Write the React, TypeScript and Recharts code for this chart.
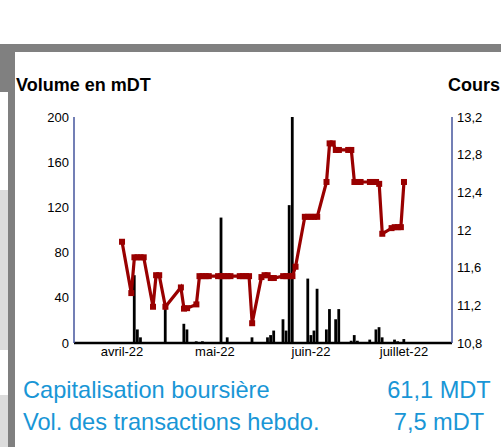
import React from 'react';
import { ComposedChart, Bar, Line, XAxis, YAxis } from 'recharts';

// x values are day offsets from 1 April 2022
const MONTH_TICKS = [0, 30, 61, 91];
const MONTH_LABELS = ['avril-22', 'mai-22', 'juin-22', 'juillet-22'];
const VOL_TICKS = [0, 40, 80, 120, 160, 200];
const PRICE_TICKS = [10.8, 11.2, 11.6, 12, 12.4, 12.8, 13.2];

const VOL_DAYS = [4, 5, 6, 14, 20, 21, 24, 26, 32, 34, 42, 47, 48, 49, 52, 53, 54, 55, 60, 61, 62, 63, 66, 67, 69, 70, 74, 75, 76, 80, 82, 83, 84, 88, 89, 91];
const VOLUMES = [60, 12, 5, 32, 17, 12, 1.5, 1.5, 111, 5, 5, 5, 7, 11, 21, 11, 122, 200, 57, 7, 11, 48, 12, 30, 21, 30, 2, 7, 2, 3, 12, 14, 5, 3, 1.5, 3.5];

const PRICE_DAYS = [0, 3, 4, 5, 6, 7, 10, 11, 12, 14, 19, 20, 21, 24, 25, 26, 27, 28, 31, 32, 33, 34, 35, 38, 39, 40, 41, 42, 45, 46, 47, 48, 49, 52, 53, 54, 55, 56, 59, 60, 61, 62, 63, 66, 67, 68, 69, 70, 73, 74, 75, 76, 77, 80, 81, 82, 83, 84, 87, 88, 89, 90, 91];
const PRICES = [11.875, 11.33, 11.71, 11.71, 11.71, 11.71, 11.185, 11.52, 11.52, 11.185, 11.39, 11.165, 11.17, 11.21, 11.51, 11.51, 11.51, 11.51, 11.51, 11.51, 11.51, 11.51, 11.51, 11.51, 11.51, 11.51, 11.51, 11.01, 11.5, 11.52, 11.52, 11.49, 11.49, 11.51, 11.51, 11.51, 11.51, 11.61, 12.14, 12.14, 12.14, 12.14, 12.14, 12.51, 12.92, 12.92, 12.85, 12.85, 12.85, 12.85, 12.51, 12.51, 12.51, 12.51, 12.51, 12.51, 12.49, 11.96, 12.02, 12.03, 12.03, 12.03, 12.51];

const volData = VOL_DAYS.map((d, i) => ({ d, vol: VOLUMES[i] }));
const priceData = PRICE_DAYS.map((d, i) => ({ d, price: PRICES[i] }));

const RED = '#990000';
const AXIS_BLUE = '#44549c';
const TEXT_BLUE = '#1996d6';
const FONT = '"Liberation Sans", Arial, sans-serif';

const SquareDot = (props: any) => {
  const { cx, cy, index } = props;
  if (cx == null || cy == null) return <g key={`d-${index}`} />;
  return <rect key={`d-${index}`} x={cx - 3} y={cy - 3} width={6} height={6} fill={RED} />;
};

const fmtPrice = (v: number) => String(Number(v.toFixed(1))).replace('.', ',');
const fmtMonth = (v: number) => MONTH_LABELS[MONTH_TICKS.indexOf(v)] ?? '';

export default function App() {
  return (
    <div style={{ position: 'absolute', left: 0, top: 0, width: 501, height: 447, background: '#fff', overflow: 'hidden', fontFamily: FONT }}>
      {/* frame decorations */}
      <div style={{ position: 'absolute', left: 0, top: 44, width: 501, height: 8, background: '#808080' }} />
      <div style={{ position: 'absolute', left: 8, top: 44, width: 7, height: 403, background: '#808080' }} />
      <div style={{ position: 'absolute', left: 0, top: 44, width: 8, height: 48, background: '#808080' }} />
      <div style={{ position: 'absolute', left: 0, top: 190, width: 8, height: 160, background: '#dcdcdc' }} />
      <div style={{ position: 'absolute', left: 0, top: 395, width: 8, height: 52, background: '#dcdcdc' }} />

      <div style={{ position: 'absolute', left: 16, top: 76, fontSize: 18, lineHeight: '18px', fontWeight: 'bold', color: '#000', whiteSpace: 'nowrap' }}>Volume en mDT</div>
      <div style={{ position: 'absolute', left: 448, top: 76, fontSize: 18, lineHeight: '18px', fontWeight: 'bold', color: '#000', whiteSpace: 'nowrap' }}>Cours</div>

      <div style={{ position: 'absolute', left: 0, top: 0 }}>
        <ComposedChart width={501} height={447} data={volData} margin={{ top: 117, right: 9, bottom: 74, left: 34 }}>
          <XAxis
            dataKey="d"
            type="number"
            domain={[-15.5, 106.5]}
            allowDataOverflow
            ticks={MONTH_TICKS}
            tickFormatter={fmtMonth}
            height={30}
            tickLine={false}
            tickSize={0}
            tickMargin={4}
            axisLine={{ stroke: '#000', strokeWidth: 2.5 }}
            tick={{ fill: '#000', fontSize: 13, fontFamily: FONT }}
          />
          <YAxis
            yAxisId="vol"
            orientation="left"
            domain={[0, 200]}
            ticks={VOL_TICKS}
            width={40}
            tickLine={false}
            tickSize={0}
            tickMargin={5}
            axisLine={{ stroke: AXIS_BLUE, strokeWidth: 1.5 }}
            tick={{ fill: '#000', fontSize: 13, fontFamily: FONT }}
            allowDataOverflow
          />
          <YAxis
            yAxisId="price"
            orientation="right"
            domain={[10.8, 13.2]}
            ticks={PRICE_TICKS}
            tickFormatter={fmtPrice}
            width={40}
            tickLine={false}
            tickSize={0}
            tickMargin={5}
            axisLine={{ stroke: AXIS_BLUE, strokeWidth: 1.5 }}
            tick={{ fill: '#000', fontSize: 13, fontFamily: FONT, textAnchor: 'start' }}
            allowDataOverflow
          />
          <Bar yAxisId="vol" dataKey="vol" fill="#000" barSize={3.2} isAnimationActive={false} />
          <Line
            yAxisId="price"
            data={priceData}
            dataKey="price"
            stroke={RED}
            strokeWidth={3.2}
            dot={SquareDot}
            activeDot={false}
            isAnimationActive={false}
          />
        </ComposedChart>
      </div>

      <div style={{ position: 'absolute', left: 23, top: 379, fontSize: 23.6, lineHeight: '23.6px', color: TEXT_BLUE, whiteSpace: 'nowrap' }}>Capitalisation boursière</div>
      <div style={{ position: 'absolute', left: 339, width: 200, textAlign: 'center', top: 379, fontSize: 23.6, lineHeight: '23.6px', color: TEXT_BLUE, whiteSpace: 'nowrap' }}>61,1 MDT</div>
      <div style={{ position: 'absolute', left: 23, top: 410.5, fontSize: 23.6, lineHeight: '23.6px', color: TEXT_BLUE, whiteSpace: 'nowrap' }}>Vol. des transactions hebdo.</div>
      <div style={{ position: 'absolute', left: 339, width: 200, textAlign: 'center', top: 410.5, fontSize: 23.6, lineHeight: '23.6px', color: TEXT_BLUE, whiteSpace: 'nowrap' }}>7,5 mDT</div>
    </div>
  );
}
